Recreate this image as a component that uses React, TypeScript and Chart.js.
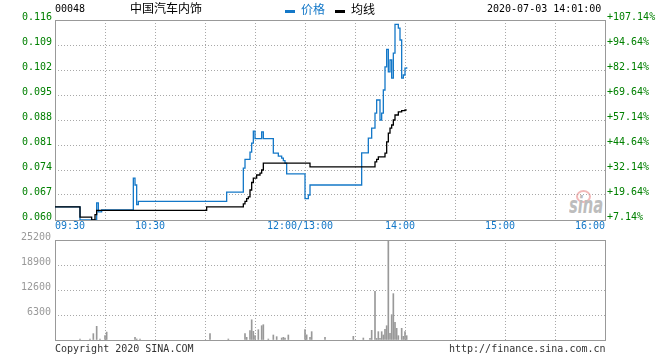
import React, { useEffect, useRef } from "react";
import { Chart, registerables } from "chart.js";

Chart.register(...registerables);

// ---------- data ----------
const stockCode = "00048";
const stockName = "中国汽车内饰";
const dateTime = "2020-07-03 14:01:00";
const legendPrice = "价格";
const legendAvg = "均线";
const copyright = "Copyright 2020 SINA.COM";
const siteUrl = "http://finance.sina.com.cn";
const watermark = "sina";

const priceTicks = [0.06, 0.067, 0.074, 0.081, 0.088, 0.095, 0.102, 0.109, 0.116];
const priceTickLabels = ["0.060", "0.067", "0.074", "0.081", "0.088", "0.095", "0.102", "0.109", "0.116"];
const pctTickLabels = ["+7.14%", "+19.64%", "+32.14%", "+44.64%", "+57.14%", "+69.64%", "+82.14%", "+94.64%", "+107.14%"];
const volTicks = [0, 6300, 12600, 18900, 25200];
const volTickLabels = ["", "6300", "12600", "18900", "25200"];
const timeLabels = ["09:30", "10:30", "12:00/13:00", "14:00", "15:00", "16:00"];
const gridTimes = ["09:30", "10:00", "10:30", "11:00", "11:30", "12:00", "13:30", "14:00", "14:30", "15:00", "15:30", "16:00"];

const priceTimes = ["09:30", "09:45", "09:55", "09:56", "09:58", "10:17", "10:18", "10:19", "10:20", "11:13", "11:23", "11:24", "11:27", "11:28", "11:29", "11:30", "11:34", "11:35", "11:41", "11:44", "11:46", "11:47", "11:48", "11:49", "13:00", "13:02", "13:03", "13:34", "13:38", "13:40", "13:42", "13:43", "13:45", "13:46", "13:47", "13:48", "13:49", "13:50", "13:51", "13:52", "13:53", "13:54", "13:55", "13:56", "13:57", "13:58", "13:59", "14:00", "14:01"];
const priceValues = [0.0637, 0.06, 0.0648, 0.0623, 0.0628, 0.0717, 0.0698, 0.0643, 0.0652, 0.0678, 0.0745, 0.077, 0.079, 0.0815, 0.0849, 0.0828, 0.0847, 0.0828, 0.0787, 0.0779, 0.0773, 0.0766, 0.0759, 0.0729, 0.066, 0.067, 0.0698, 0.0788, 0.0829, 0.0857, 0.0899, 0.0936, 0.088, 0.0899, 0.0964, 0.1029, 0.1078, 0.1015, 0.1048, 0.0997, 0.1067, 0.1148, 0.1148, 0.1137, 0.1104, 0.0997, 0.1006, 0.1025, 0.1028];

const avgTimes = ["09:30", "09:45", "09:52", "09:54", "09:55", "11:01", "11:23", "11:24", "11:25", "11:26", "11:27", "11:28", "11:29", "11:31", "11:33", "11:34", "11:35", "13:03", "13:42", "13:43", "13:44", "13:48", "13:49", "13:50", "13:51", "13:52", "13:53", "13:54", "13:56", "13:58", "14:00", "14:01"];
const avgValues = [0.0637, 0.0608, 0.06, 0.0615, 0.0627, 0.0637, 0.0645, 0.0652, 0.066, 0.0665, 0.0684, 0.0705, 0.0717, 0.0726, 0.0731, 0.074, 0.0759, 0.0749, 0.0763, 0.077, 0.0777, 0.0787, 0.0819, 0.0843, 0.0857, 0.0866, 0.088, 0.0894, 0.0903, 0.0906, 0.0908, 0.0908];

const volTimes = ["09:45", "09:51", "09:53", "09:55", "09:57", "10:00", "10:01", "10:18", "10:19", "10:21", "11:03", "11:14", "11:24", "11:25", "11:27", "11:28", "11:29", "11:30", "11:32", "11:34", "11:35", "11:38", "11:41", "11:43", "11:46", "11:47", "11:48", "11:50", "13:00", "13:01", "13:03", "13:04", "13:12", "13:29", "13:35", "13:39", "13:40", "13:42", "13:43", "13:44", "13:45", "13:46", "13:47", "13:48", "13:49", "13:50", "13:51", "13:52", "13:53", "13:54", "13:55", "13:56", "13:58", "13:59", "14:00", "14:01"];
const volValues = [250, 250, 1600, 3450, 250, 1100, 2000, 670, 250, 250, 1600, 250, 1600, 670, 2350, 5100, 2180, 1100, 2600, 3600, 3860, 250, 1260, 840, 500, 670, 500, 1260, 2600, 1300, 670, 2100, 670, 920, 500, 400, 2440, 12270, 400, 2100, 400, 2100, 1260, 2690, 3600, 25200, 1680, 6380, 11680, 4450, 2940, 1090, 2940, 920, 2100, 1090];

// ---------- styles ----------
const BLUE = "#1478c8";
const GREEN = "#008000";
const GRID = "#a8a8a8";
const FRAME = "#999999";
const MONO = "DejaVu Sans Mono";
const CJK = '"Noto Sans CJK SC"';

function toMinute(t: string): number {
  const [h, m] = t.split("/")[0].split(":").map(Number);
  const mins = h * 60 + m;
  return mins <= 720 ? mins - 570 : mins - 780 + 150;
}

const fixW = (w: number) => (s: any) => {
  s.width = w;
};
const fixH = (h: number) => (s: any) => {
  s.height = h;
};

const framePlugin = {
  id: "frame",
  beforeDatasetsDraw(chart: any) {
    const { ctx, chartArea: a } = chart;
    ctx.save();
    ctx.strokeStyle = FRAME;
    ctx.lineWidth = 1;
    ctx.strokeRect(Math.round(a.left) + 0.5, Math.round(a.top) + 0.5, Math.round(a.right - a.left), Math.round(a.bottom - a.top));
    ctx.restore();
  },
};

const xGridAxis = (h: number) => ({
  type: "linear",
  position: "bottom",
  min: 0,
  max: 330,
  offset: false,
  afterBuildTicks: (s: any) => {
    s.ticks = gridTimes.map((t) => ({ value: toMinute(t) }));
  },
  ticks: { display: false },
  grid: { color: GRID, lineWidth: 1, drawTicks: false, offset: false },
  border: { display: false, dash: [1, 2] },
  afterFit: fixH(h),
});

export default function App() {
  const mainRef = useRef<HTMLCanvasElement>(null);
  const volRef = useRef<HTMLCanvasElement>(null);

  useEffect(() => {
    const font = { family: MONO, size: 10 };
    const last = timeLabels.length - 1;
    const main = new Chart(mainRef.current as HTMLCanvasElement, {
      type: "line",
      data: {
        datasets: [
          {
            label: legendAvg,
            data: avgTimes.map((t, i) => ({ x: toMinute(t), y: avgValues[i] })),
            borderColor: "#000000",
            borderWidth: 1.3,
            stepped: true,
            pointRadius: 0,
            fill: false,
          },
          {
            label: legendPrice,
            data: priceTimes.map((t, i) => ({ x: toMinute(t), y: priceValues[i] })),
            borderColor: BLUE,
            borderWidth: 1.3,
            stepped: true,
            pointRadius: 0,
            fill: false,
          },
        ],
      },
      options: {
        responsive: false,
        animation: false,
        events: [],
        layout: { padding: { top: 20, left: 0, right: 0, bottom: 0 } },
        plugins: { legend: { display: false }, tooltip: { enabled: false } },
        scales: {
          x: xGridAxis(0) as any,
          xl: {
            type: "linear",
            position: "bottom",
            weight: 1,
            min: 0,
            max: 330,
            afterBuildTicks: (s: any) => {
              s.ticks = timeLabels.map((t, i) => ({ value: toMinute(t) + (i > 0 && i < last ? -3 : 0) }));
            },
            ticks: {
              align: "inner",
              color: BLUE,
              font,
              padding: -8,
              maxRotation: 0,
              autoSkip: false,
              callback: (_v: any, i: number) => timeLabels[i],
            },
            grid: { display: false },
            border: { display: false },
            afterFit: fixH(140),
          } as any,
          y: {
            type: "linear",
            position: "left",
            min: 0.06,
            max: 0.116,
            afterBuildTicks: (s: any) => {
              s.ticks = priceTicks.map((v) => ({ value: v }));
            },
            ticks: {
              color: GREEN,
              font,
              padding: 3,
              labelOffset: -3,
              callback: (_v: any, i: number) => priceTickLabels[i],
            },
            grid: { color: GRID, lineWidth: 1, drawTicks: false },
            border: { display: false, dash: [1, 2] },
            afterFit: fixW(55),
          } as any,
          yr: {
            type: "linear",
            position: "right",
            min: 0.06,
            max: 0.116,
            afterBuildTicks: (s: any) => {
              s.ticks = priceTicks.map((v) => ({ value: v }));
            },
            ticks: {
              color: GREEN,
              font,
              padding: 2,
              labelOffset: -3,
              callback: (_v: any, i: number) => pctTickLabels[i],
            },
            grid: { display: false, drawTicks: false },
            border: { display: false },
            afterFit: fixW(55),
          } as any,
        },
      },
      plugins: [framePlugin],
    });

    const vol = new Chart(volRef.current as HTMLCanvasElement, {
      type: "bar",
      data: {
        datasets: [
          {
            label: "成交量",
            data: volTimes.map((t, i) => ({ x: toMinute(t), y: volValues[i] })),
            backgroundColor: "#999999",
            borderWidth: 0,
            barThickness: 1,
          },
        ],
      },
      options: {
        responsive: false,
        animation: false,
        events: [],
        layout: { padding: { top: 240, left: 0, right: 55, bottom: 0 } },
        plugins: { legend: { display: false }, tooltip: { enabled: false } },
        scales: {
          x: xGridAxis(20) as any,
          y: {
            type: "linear",
            position: "left",
            min: 0,
            max: 25200,
            afterBuildTicks: (s: any) => {
              s.ticks = volTicks.map((v) => ({ value: v }));
            },
            ticks: {
              color: "#999999",
              font,
              padding: 4,
              labelOffset: -3,
              callback: (_v: any, i: number) => volTickLabels[i],
            },
            grid: { color: GRID, lineWidth: 1, drawTicks: false },
            border: { display: false, dash: [1, 2] },
            afterFit: fixW(55),
          } as any,
        },
      },
      plugins: [framePlugin],
    });

    return () => {
      main.destroy();
      vol.destroy();
    };
  }, []);

  const txt = (left: number, top: number, font: string, color: string, content: string) => (
    <span
      style={{
        position: "absolute",
        left,
        top,
        font,
        lineHeight: "12px",
        color,
        whiteSpace: "nowrap",
      }}
    >
      {content}
    </span>
  );

  return (
    <div style={{ position: "absolute", left: 0, top: 0, width: 660, height: 360, background: "#fff", overflow: "hidden" }}>
      <div
        style={{
          position: "absolute",
          left: 576,
          top: 190,
          width: 11,
          height: 9,
          borderRadius: "50%",
          border: "2px solid #f2b8b8",
        }}
      />
      <span
        style={{
          position: "absolute",
          left: 569,
          top: 193,
          font: 'italic bold 23px "DejaVu Sans"',
          color: "#bdbdbd",
          lineHeight: "24px",
          transform: "scaleX(0.64)",
          transformOrigin: "left top",
          whiteSpace: "nowrap",
        }}
      >
        {watermark}
      </span>
      <canvas ref={mainRef} width={660} height={360} style={{ position: "absolute", left: 0, top: 0 }} />
      <canvas ref={volRef} width={660} height={360} style={{ position: "absolute", left: 0, top: 0 }} />
      {txt(55, 3, `10px "${MONO}"`, "#000", stockCode)}
      {txt(130, 2, `12px ${CJK}`, "#000", stockName)}
      <span style={{ position: "absolute", left: 285, top: 10, width: 10, height: 3, background: BLUE }} />
      {txt(301, 3, `12px ${CJK}`, BLUE, legendPrice)}
      <span style={{ position: "absolute", left: 335, top: 10, width: 10, height: 3, background: "#000" }} />
      {txt(351, 3, `12px ${CJK}`, "#000", legendAvg)}
      {txt(487, 3, `10px "${MONO}"`, "#000", dateTime)}
      {txt(55, 343, `10px "${MONO}"`, "#333", copyright)}
      {txt(449, 343, `10px "${MONO}"`, "#333", siteUrl)}
    </div>
  );
}
